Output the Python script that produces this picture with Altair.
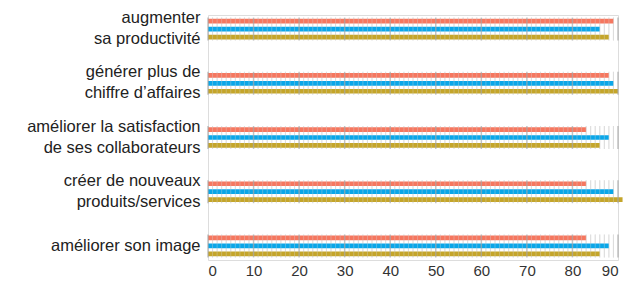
import altair as alt
import pandas as pd

categories = [
    "augmenter|sa productivité",
    "générer plus de|chiffre d’affaires",
    "améliorer la satisfaction|de ses collaborateurs",
    "créer de nouveaux|produits/services",
    "améliorer son image",
]
series = ["Série 1", "Série 2", "Série 3"]
serie1 = [89, 88, 83, 83, 83]
serie2 = [86, 89, 88, 89, 88]
serie3 = [88, 90, 86, 91, 86]
x_ticks = list(range(0, 91, 10))
colors = ["#F5775F", "#0AA6E8", "#C4A52A"]

rows = []
for i, c in enumerate(categories):
    for s, vals in zip(series, [serie1, serie2, serie3]):
        rows.append({"cat": c, "serie": s, "value": vals[i]})
df = pd.DataFrame(rows)

grid_rows = []
for c in categories:
    for v in range(0, 91):
        grid_rows.append({"cat": c, "g": v, "major": v % 10 == 0})
gdf = pd.DataFrame(grid_rows)

yenc = alt.Y("cat:N", sort=categories,
             scale=alt.Scale(paddingInner=0.56, paddingOuter=0.04),
             axis=alt.Axis(title=None, ticks=False, domain=False,
                           labelExpr="split(datum.label, '|')",
                           labelFontSize=16.5, labelFont="Liberation Sans",
                           labelColor="#222222", labelPadding=8,
                           labelLineHeight=21, labelLimit=300,
                           labelOffset={"condition": {"test": "indexof(datum.value, '|') >= 0", "value": -11}, "value": 0}))
xscale = alt.Scale(domain=[0, 90], nice=False)
xaxis = alt.Axis(title=None, values=x_ticks, grid=False, ticks=False,
                 domain=False, labelFontSize=15, labelFont="Liberation Sans",
                 labelColor="#333333", labelPadding=3)

minor = alt.Chart(gdf).transform_filter("!datum.major").mark_tick(
    orient="vertical", size=23, thickness=1, color="#cccccc"
).encode(x=alt.X("g:Q", scale=xscale, axis=xaxis), y=yenc)

bars = alt.Chart(df).mark_bar(height=4.7).encode(
    x=alt.X("value:Q", scale=xscale, axis=xaxis),
    y=yenc,
    yOffset=alt.YOffset("serie:N", sort=series,
                        scale=alt.Scale(paddingInner=0.0, paddingOuter=0.0)),
    color=alt.Color("serie:N", sort=series,
                    scale=alt.Scale(domain=series, range=colors), legend=None),
)

minor_top = alt.Chart(gdf).transform_filter("!datum.major").mark_tick(
    orient="vertical", size=23, thickness=1, color="#dddddd", opacity=0.35
).encode(x=alt.X("g:Q", scale=xscale, axis=xaxis), y=yenc)

major = alt.Chart(gdf).transform_filter("datum.major").mark_tick(
    orient="vertical", size=23, thickness=1.5, color="#a8a8a8"
).encode(x=alt.X("g:Q", scale=xscale, axis=xaxis), y=yenc)

chart = alt.layer(minor, bars, minor_top, major).properties(
    width=410, height=245,
    autosize="none",
    padding={"left": 200, "top": 7, "right": 6, "bottom": 30},
).configure_view(stroke=None).configure(background="white")

chart.save("out.html", embed_options={"renderer": "svg", "actions": False})
